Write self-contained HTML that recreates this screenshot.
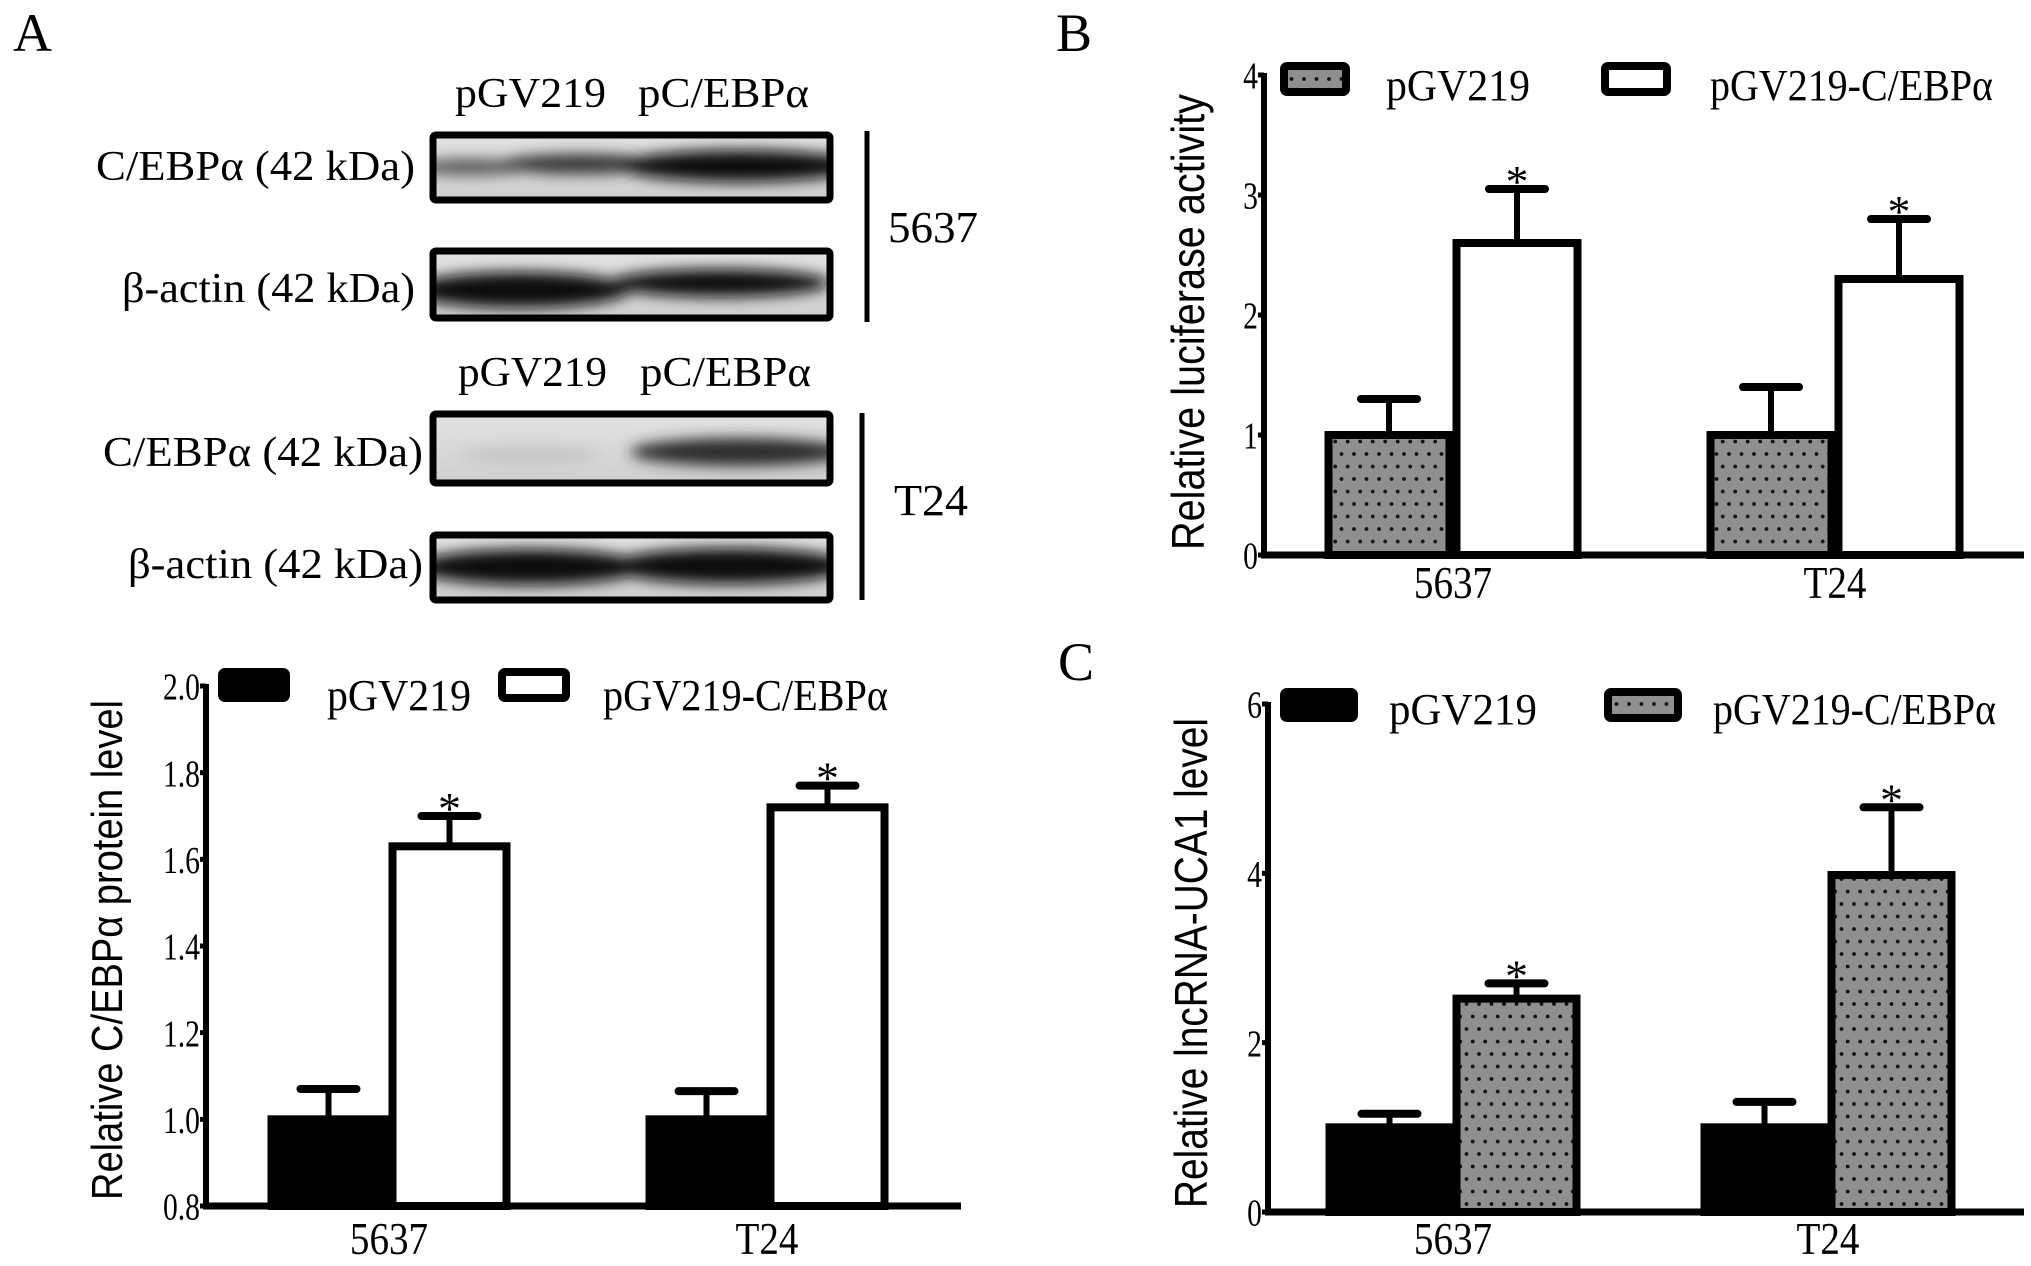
<!DOCTYPE html>
<html><head><meta charset="utf-8"><style>
html,body{margin:0;padding:0;background:#fff;}
svg{display:block;font-family:"Liberation Serif",serif;}
</style></head><body>
<svg id="fig" width="2031" height="1266" viewBox="0 0 2031 1266" xmlns="http://www.w3.org/2000/svg">
<defs>
<filter id="blur" x="-20%" y="-50%" width="140%" height="200%"><feGaussianBlur stdDeviation="7"/></filter>
<linearGradient id="blotbg" x1="0" y1="0" x2="0" y2="1"><stop offset="0" stop-color="#e2e2e2"/><stop offset="1" stop-color="#cfcfcf"/></linearGradient>
<pattern id="dots" width="12.5" height="25" patternUnits="userSpaceOnUse">
<rect width="12.5" height="25" fill="#8f8f8f"/>
<circle cx="4" cy="4" r="1.9" fill="#111"/><circle cx="10.2" cy="16.5" r="1.9" fill="#111"/>
</pattern>
<clipPath id="c1"><rect x="435" y="137" width="393" height="61"/></clipPath>
<clipPath id="c2"><rect x="435" y="253" width="393" height="63"/></clipPath>
<clipPath id="c3"><rect x="435" y="416" width="393" height="65"/></clipPath>
<clipPath id="c4"><rect x="435" y="537" width="393" height="61"/></clipPath>
</defs>

<g>
<text x="13" y="51" font-size="54">A</text>
<text x="455" y="107" font-size="42" textLength="151" lengthAdjust="spacingAndGlyphs">pGV219</text>
<text x="638" y="107" font-size="42" textLength="171" lengthAdjust="spacingAndGlyphs">pC/EBPα</text>
<text x="458" y="386" font-size="42" textLength="149" lengthAdjust="spacingAndGlyphs">pGV219</text>
<text x="640" y="386" font-size="42" textLength="171" lengthAdjust="spacingAndGlyphs">pC/EBPα</text>

<text x="96" y="180" font-size="42" textLength="319" lengthAdjust="spacingAndGlyphs">C/EBPα (42 kDa)</text>
<text x="122" y="302" font-size="42" textLength="293" lengthAdjust="spacingAndGlyphs">β-actin (42 kDa)</text>
<text x="103" y="466" font-size="42" textLength="320" lengthAdjust="spacingAndGlyphs">C/EBPα (42 kDa)</text>
<text x="128" y="578" font-size="42" textLength="295" lengthAdjust="spacingAndGlyphs">β-actin (42 kDa)</text>

<rect x="433" y="135" width="397" height="65" fill="url(#blotbg)"/>
<g clip-path="url(#c1)" filter="url(#blur)">
<ellipse cx="470" cy="167" rx="60" ry="8" fill="#555"/>
<ellipse cx="580" cy="164" rx="80" ry="10" fill="#333"/>
<ellipse cx="740" cy="166" rx="120" ry="16" fill="#111"/>
</g>
<rect x="433" y="135" width="397" height="65" fill="none" stroke="#000" stroke-width="7" rx="3"/>
<rect x="433" y="251" width="397" height="67" fill="url(#blotbg)"/>
<g clip-path="url(#c2)" filter="url(#blur)">
<ellipse cx="520" cy="290" rx="110" ry="18" fill="#111"/>
<ellipse cx="720" cy="283" rx="110" ry="14" fill="#111"/>
</g>
<rect x="433" y="251" width="397" height="67" fill="none" stroke="#000" stroke-width="7" rx="3"/>
<rect x="433" y="414" width="397" height="69" fill="url(#blotbg)"/>
<g clip-path="url(#c3)" filter="url(#blur)">
<ellipse cx="530" cy="455" rx="70" ry="8" fill="#c4c4c4"/>
<ellipse cx="740" cy="452" rx="110" ry="14" fill="#2a2a2a"/>
</g>
<rect x="433" y="414" width="397" height="69" fill="none" stroke="#000" stroke-width="7" rx="3"/>
<rect x="433" y="535" width="397" height="65" fill="url(#blotbg)"/>
<g clip-path="url(#c4)" filter="url(#blur)">
<ellipse cx="530" cy="567" rx="115" ry="18" fill="#0a0a0a"/>
<ellipse cx="730" cy="566" rx="120" ry="18" fill="#0a0a0a"/>
</g>
<rect x="433" y="535" width="397" height="65" fill="none" stroke="#000" stroke-width="7" rx="3"/>

<line x1="867" y1="131" x2="867" y2="322" stroke="#000" stroke-width="5"/>
<line x1="862" y1="413" x2="862" y2="600" stroke="#000" stroke-width="5"/>
<text x="888" y="242" font-size="44" textLength="90" lengthAdjust="spacingAndGlyphs">5637</text>
<text x="894" y="515" font-size="44" textLength="74" lengthAdjust="spacingAndGlyphs">T24</text>
</g>

<text x="1056" y="51" font-size="54">B</text>
<text x="1058" y="680" font-size="54">C</text>

<g id="chartA"></g>
<g id="chartB"></g>
<g id="chartC"></g>
</svg>

<script>
const categories = ["5637", "T24"];
const seriesNames = ["pGV219", "pGV219-C/EBPα"];

const aCtrl = [1.0, 1.0];
const aCtrlErr = [0.07, 0.065];
const aTreat = [1.63, 1.72];
const aTreatErr = [0.07, 0.05];
const aTicks = [0.8, 1.0, 1.2, 1.4, 1.6, 1.8, 2.0];
const aTickLabels = ["0.8", "1.0", "1.2", "1.4", "1.6", "1.8", "2.0"];

const bCtrl = [1.0, 1.0];
const bCtrlErr = [0.3, 0.4];
const bTreat = [2.6, 2.3];
const bTreatErr = [0.45, 0.5];
const bTicks = [0, 1, 2, 3, 4];
const bTickLabels = ["0", "1", "2", "3", "4"];

const cCtrl = [1.0, 1.0];
const cCtrlErr = [0.16, 0.3];
const cTreat = [2.52, 3.98];
const cTreatErr = [0.18, 0.8];
const cTicks = [0, 2, 4, 6];
const cTickLabels = ["0", "2", "4", "6"];

const NS = "http://www.w3.org/2000/svg";
function mk(parent, tag, attrs, text) {
  const e = document.createElementNS(NS, tag);
  for (const k in attrs) e.setAttribute(k, attrs[k]);
  if (text !== undefined) e.textContent = text;
  parent.appendChild(e);
  return e;
}

function drawChart(g, cfg, ctrl, ctrlErr, treat, treatErr, ticks, tickLabels) {
  const y = v => cfg.y0 - (v - cfg.vmin) / (cfg.vmax - cfg.vmin) * (cfg.y0 - cfg.y1);
  const ya = mk(g, "line", {x1: cfg.ax, y1: y(cfg.vmax) - 2, x2: cfg.ax, y2: cfg.y0, stroke: "#000", "stroke-width": 6});
  
  
  const xa = mk(g, "line", {x1: cfg.ax - 3, y1: cfg.y0, x2: cfg.xend, y2: cfg.y0, stroke: "#000", "stroke-width": 7});
  
  
  ticks.forEach((t, i) => {
    const tk = mk(g, "line", {x1: cfg.ax - 6, y1: y(t), x2: cfg.ax, y2: y(t), stroke: "#000", "stroke-width": 5});
    
    
    const tl = mk(g, "text", {x: 0, y: 0, "font-size": cfg.tickFs, "text-anchor": "end",
      transform: `translate(${cfg.ax - 6},${y(t) + cfg.tickFs * 0.36}) scale(0.78,1)`}, tickLabels[i]);
    
    
  });
  const tt = mk(g, "text", {x: 0, y: 0, "font-size": cfg.titleFs, "font-family": "Liberation Sans, sans-serif", "text-anchor": "middle",
    transform: `translate(${cfg.titleX},${cfg.titleY}) rotate(-90)`, textLength: cfg.titleLen, lengthAdjust: "spacingAndGlyphs"}, cfg.title);
  
  
  categories.forEach((c, i) => {
    const cx = cfg.centers[i];
    const vals = [[ctrl[i], ctrlErr[i], cfg.fill1, cx - cfg.bw], [treat[i], treatErr[i], cfg.fill2, cx]];
    vals.forEach((v, j) => {
      const top = y(v[0]);
      const et = y(v[0] + v[1]);
      const ex = v[3] + cfg.bw / 2;
      const el = mk(g, "line", {x1: ex, y1: top, x2: ex, y2: et, stroke: "#000", "stroke-width": 6});
      
      
      const ec = mk(g, "line", {x1: ex - 28, y1: et, x2: ex + 28, y2: et, stroke: "#000", "stroke-width": 8, "stroke-linecap": "round"});
      
      
      const r = mk(g, "rect", {x: v[3] + 3.5, y: top, width: cfg.bw - 7, height: cfg.y0 - top, fill: v[2], stroke: "#000", "stroke-width": 8});
      
      
      if (j === 1) {
        const st = mk(g, "text", {x: ex, y: et + 8, "font-size": 46, "text-anchor": "middle"}, "*");
        
        
      }
    });
    const xl = mk(g, "text", {x: 0, y: 0, "font-size": 46, "text-anchor": "middle",
      transform: `translate(${cx},${cfg.xlabY}) scale(0.85,1)`}, c);
    
    
  });
  [0, 1].forEach(k => {
    const lb = mk(g, "rect", {x: cfg.legBox[k], y: cfg.legY, width: cfg.legW, height: 26, fill: k === 0 ? cfg.fill1 : cfg.fill2, stroke: "#000", "stroke-width": 8, rx: 3});
    
    
    const lt = mk(g, "text", {x: cfg.legText[k], y: cfg.legTY, "font-size": 44, textLength: cfg.legLen[k], lengthAdjust: "spacingAndGlyphs"}, seriesNames[k]);
    
    
  });
}

drawChart(document.getElementById("chartA"), {
  ax: 206, y0: 1206, y1: 686, vmin: 0.8, vmax: 2.0, xend: 961, tickFs: 38,
  centers: [389, 767], bw: 121, fill1: "#000", fill2: "#fff",
  title: "Relative C/EBPα  protein level", titleX: 122, titleY: 950, titleLen: 500, titleFs: 44,
  xlabY: 1254, legBox: [222, 502], legW: 64, legY: 672, legText: [327, 603], legTY: 710, legLen: [144, 285]
}, aCtrl, aCtrlErr, aTreat, aTreatErr, aTicks, aTickLabels);

drawChart(document.getElementById("chartB"), {
  ax: 1264, y0: 555, y1: 75, vmin: 0, vmax: 4, xend: 2024, tickFs: 38,
  centers: [1453, 1835], bw: 128, fill1: "url(#dots)", fill2: "#fff",
  title: "Relative luciferase activity", titleX: 1204, titleY: 322, titleLen: 456, titleFs: 46,
  xlabY: 598, legBox: [1284, 1605], legW: 62, legY: 66, legText: [1386, 1710], legTY: 100, legLen: [144, 283]
}, bCtrl, bCtrlErr, bTreat, bTreatErr, bTicks, bTickLabels);

drawChart(document.getElementById("chartC"), {
  ax: 1268, y0: 1212, y1: 704, vmin: 0, vmax: 6, xend: 2024, tickFs: 38,
  centers: [1453, 1828], bw: 127, fill1: "#000", fill2: "url(#dots)",
  title: "Relative lncRNA-UCA1 level", titleX: 1207, titleY: 963, titleLen: 490, titleFs: 46,
  xlabY: 1254, legBox: [1284, 1608], legW: 70, legY: 692, legText: [1389, 1713], legTY: 724, legLen: [148, 283]
}, cCtrl, cCtrlErr, cTreat, cTreatErr, cTicks, cTickLabels);
</script>
</body></html>
